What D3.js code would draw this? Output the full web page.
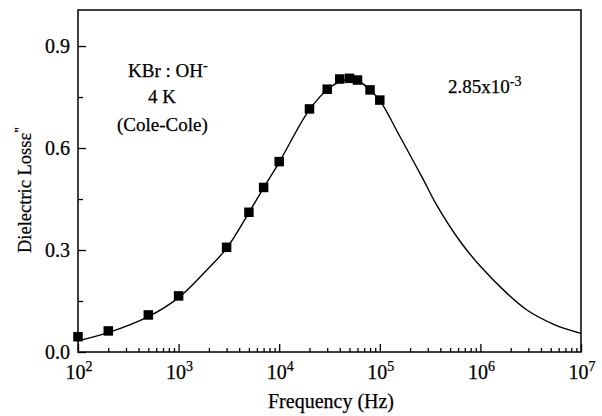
<!DOCTYPE html>
<html>
<head>
<meta charset="utf-8">
<script src="https://cdn.jsdelivr.net/npm/d3@7"></script>
<style>
  html, body { margin: 0; padding: 0; background: #fff; }
  svg { display: block; }
  text { font-family: "Liberation Serif", "Times New Roman", serif; fill: #000; stroke: #000; stroke-width: 0.25px; }
</style>
</head>
<body>
<svg id="chart" width="602" height="416"></svg>
<script>
// ---- data ----
const dataFreq = [100, 200, 500, 1000, 3000, 5000, 7000, 1e4, 2e4, 3e4, 4e4, 5e4, 6e4, 8e4, 1e5];
const dataLoss = [0.045, 0.062, 0.109, 0.165, 0.308, 0.411, 0.484, 0.560, 0.715, 0.773, 0.803, 0.805, 0.800, 0.771, 0.741];

const fitFreq = [1e2, 2e2, 5e2, 1e3, 1.96e3, 3e3, 5e3, 7e3, 1e4, 2e4, 3.2e4, 4.5e4, 6.3e4, 8e4, 1e5, 1.57e5, 2.71e5, 3.68e5, 6.3e5, 1e6, 1.86e6, 2.95e6, 5.5e6, 1e7];
const fitLoss = [0.033, 0.057, 0.104, 0.160, 0.245, 0.305, 0.410, 0.483, 0.558, 0.713, 0.778, 0.800, 0.795, 0.770, 0.740, 0.636, 0.507, 0.432, 0.325, 0.252, 0.171, 0.122, 0.080, 0.055];

const xTickExps = [2, 3, 4, 5, 6, 7];
const yTicks = [0, 0.3, 0.6, 0.9];
const yTickLabels = ["0.0", "0.3", "0.6", "0.9"];
const yMinorTicks = [0.15, 0.45, 0.75];

// ---- layout ----
const svg = d3.select("#chart");
const L = 78, R = 581, T = 10, B = 352;

const x = d3.scaleLog().domain([1e2, 1e7]).range([L, R]);
const y = d3.scaleLinear().domain([0, 1.006]).range([B, T]);

// frame
svg.append("rect")
  .attr("x", L).attr("y", T).attr("width", R - L).attr("height", B - T)
  .attr("fill", "none").attr("stroke", "#000").attr("stroke-width", 1.5);

// x minor ticks
const xMinor = [];
for (let e = 2; e < 7; e++) for (let m = 2; m <= 9; m++) xMinor.push(m * Math.pow(10, e));
const xMajor = xTickExps.map(e => Math.pow(10, e));

const gx = svg.append("g").attr("transform", `translate(0,${B})`);
gx.call(d3.axisBottom(x).tickValues(xMinor).tickSize(-4).tickFormat(""));
const gx2 = svg.append("g").attr("transform", `translate(0,${B})`);
gx2.call(d3.axisBottom(x).tickValues(xMajor).tickSize(-8).tickFormat(""));
[gx, gx2].forEach(g => {
  g.select(".domain").remove();
  g.selectAll(".tick line").attr("stroke", "#000").attr("stroke-width", 1.3);
});

// y ticks
const gy = svg.append("g").attr("transform", `translate(${L},0)`);
gy.call(d3.axisLeft(y).tickValues(yTicks).tickSize(-8).tickFormat(""));
const gy2 = svg.append("g").attr("transform", `translate(${L},0)`);
gy2.call(d3.axisLeft(y).tickValues(yMinorTicks).tickSize(-5).tickFormat(""));
[gy, gy2].forEach(g => {
  g.select(".domain").remove();
  g.selectAll(".tick line").attr("stroke", "#000").attr("stroke-width", 1.3);
});

// y tick labels
svg.selectAll(".ylab").data(yTicks).enter().append("text")
  .attr("class", "ylab")
  .attr("x", L - 8).attr("y", d => y(d) + 7)
  .attr("text-anchor", "end").attr("font-size", 20)
  .text((d, i) => yTickLabels[i]);

// x tick labels 10^n
xTickExps.forEach(e => {
  const t = svg.append("text")
    .attr("x", x(Math.pow(10, e)) + 1).attr("y", 379)
    .attr("text-anchor", "middle").attr("font-size", 20);
  t.append("tspan").text("10");
  t.append("tspan").attr("dy", -8).attr("font-size", 14).text(String(e));
});

// axis titles
svg.append("text")
  .attr("x", 331).attr("y", 408)
  .attr("text-anchor", "middle").attr("font-size", 20)
  .text("Frequency (Hz)");

const yt = svg.append("text")
  .attr("transform", `translate(31,190) rotate(-90)`)
  .attr("text-anchor", "middle").attr("font-size", 18.5);
yt.append("tspan").text("Dielectric Lossε");
yt.append("tspan").attr("dy", -6).attr("font-size", 14).text("\"");

// fit curve
const line = d3.line()
  .x((d, i) => x(fitFreq[i]))
  .y(d => y(d))
  .curve(d3.curveCatmullRom.alpha(0.5));
svg.append("path")
  .attr("d", line(fitLoss))
  .attr("fill", "none").attr("stroke", "#000").attr("stroke-width", 1.4);

// data squares
const s = 9.5;
svg.selectAll(".pt").data(dataLoss).enter().append("rect")
  .attr("class", "pt")
  .attr("x", (d, i) => x(dataFreq[i]) - s / 2)
  .attr("y", d => y(d) - s / 2)
  .attr("width", s).attr("height", s)
  .attr("fill", "#000");

// annotations
const a1 = svg.append("text").attr("x", 128).attr("y", 77).attr("font-size", 19);
a1.append("tspan").text("KBr : OH");
a1.append("tspan").attr("dy", -7).attr("font-size", 14).text("-");

svg.append("text").attr("x", 148).attr("y", 103).attr("font-size", 19).text("4 K");
svg.append("text").attr("x", 117).attr("y", 131).attr("font-size", 19).text("(Cole-Cole)");

const a4 = svg.append("text").attr("x", 448).attr("y", 93).attr("font-size", 19);
a4.append("tspan").text("2.85x10");
a4.append("tspan").attr("dy", -7).attr("font-size", 14).text("-3");
</script>
</body>
</html>
